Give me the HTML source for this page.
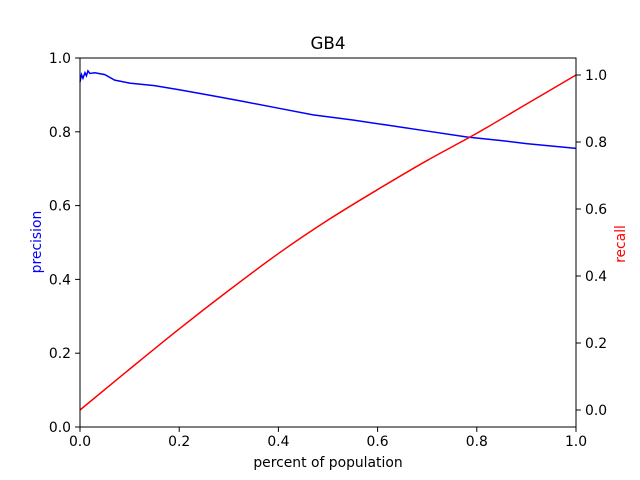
<!DOCTYPE html>
<html><head><meta charset="utf-8"><style>
body{margin:0;background:#fff}
svg{display:block;font-family:"DejaVu Sans","Liberation Sans",sans-serif}
</style></head><body>
<svg id="chart" width="640" height="480">
<rect width="640" height="480" fill="#fff"/>
</svg>
<script>
const xVals=[0,0.003,0.006,0.01,0.013,0.016,0.02,0.03,0.05,0.07,0.1,0.15,0.2,0.27,0.33,0.4,0.47,0.55,0.62,0.7,0.78,0.85,0.9,1.0];
const precisionVals=[0.935,0.955,0.945,0.96,0.952,0.965,0.958,0.96,0.955,0.94,0.932,0.925,0.914,0.897,0.882,0.864,0.846,0.832,0.818,0.802,0.786,0.776,0.768,0.755];
const recallX=[0,0.1,0.2,0.3,0.4,0.5,0.6,0.7,0.8,0.9,1.0];
const recallVals=[0,0.122,0.242,0.357,0.467,0.567,0.658,0.745,0.826,0.913,1.0];
const xTicks=[0,0.2,0.4,0.6,0.8,1.0];
const leftTicks=[0,0.2,0.4,0.6,0.8,1.0];
const rightTicks=[0,0.2,0.4,0.6,0.8,1.0];
const L=80,R=576,T=58,B=427;
const sx=v=>L+v*(R-L);
const sy=v=>B-v*(B-T);
const sr=v=>B-(v+0.0507)/1.1014*(B-T);
const svg=document.getElementById('chart');
const NS='http://www.w3.org/2000/svg';
function mk(tag,attrs,parent){const e=document.createElementNS(NS,tag);for(const k in attrs)e.setAttribute(k,attrs[k]);(parent||svg).appendChild(e);return e;}
function txt(s,attrs){const e=mk('text',attrs);e.textContent=s;return e;}
function smooth(xs,ys,fx,fy){
  const px=xs.map(fx),py=ys.map(fy);let d='M'+px[0]+','+py[0];
  for(let i=0;i<px.length-1;i++){
    const p0=Math.max(0,i-1),p3=Math.min(px.length-1,i+2);
    const c1x=px[i]+(px[i+1]-px[p0])/6,c1y=py[i]+(py[i+1]-py[p0])/6;
    const c2x=px[i+1]-(px[p3]-px[i])/6,c2y=py[i+1]-(py[p3]-py[i])/6;
    d+='C'+c1x+','+c1y+' '+c2x+','+c2y+' '+px[i+1]+','+py[i+1];
  }return d;}
let d=xVals.map((x,i)=>(i?'L':'M')+sx(x)+','+sy(precisionVals[i])).join('');
const pl=mk('path',{d:d,fill:'none',stroke:'#0000ff','stroke-width':1.5});


d=smooth(recallX,recallVals,sx,sr);
const rl=mk('path',{d:d,fill:'none',stroke:'#ff0000','stroke-width':1.5});


const fr=mk('rect',{x:L,y:T,width:R-L,height:B-T,fill:'none',stroke:'#000','stroke-width':1});


xTicks.forEach(v=>{mk('line',{x1:sx(v),x2:sx(v),y1:B,y2:B+4.9,stroke:'#000'});
const t=txt(v.toFixed(1),{x:sx(v),y:B+19,'font-size':13.9,'text-anchor':'middle'});

});
leftTicks.forEach(v=>{mk('line',{x1:L-4.9,x2:L,y1:sy(v),y2:sy(v),stroke:'#000'});
const t=txt(v.toFixed(1),{x:L-9,y:sy(v)+5,'font-size':13.9,'text-anchor':'end'});

});
rightTicks.forEach(v=>{mk('line',{x1:R,x2:R+4.9,y1:sr(v),y2:sr(v),stroke:'#000'});
const t=txt(v.toFixed(1),{x:R+9,y:sr(v)+5,'font-size':13.9});

});
let t=txt('GB4',{x:328,y:49,'font-size':16.7,'text-anchor':'middle'});


t=txt('percent of population',{x:328,y:467,'font-size':13.9,'text-anchor':'middle'});


t=txt('precision',{x:0,y:0,'font-size':13.9,'text-anchor':'middle',fill:'#0000ff',transform:'translate(41,242) rotate(-90)'});


t=txt('recall',{x:0,y:0,'font-size':13.9,'text-anchor':'middle',fill:'#ff0000',transform:'translate(625,244) rotate(-90)'});


</script>
</body></html>
